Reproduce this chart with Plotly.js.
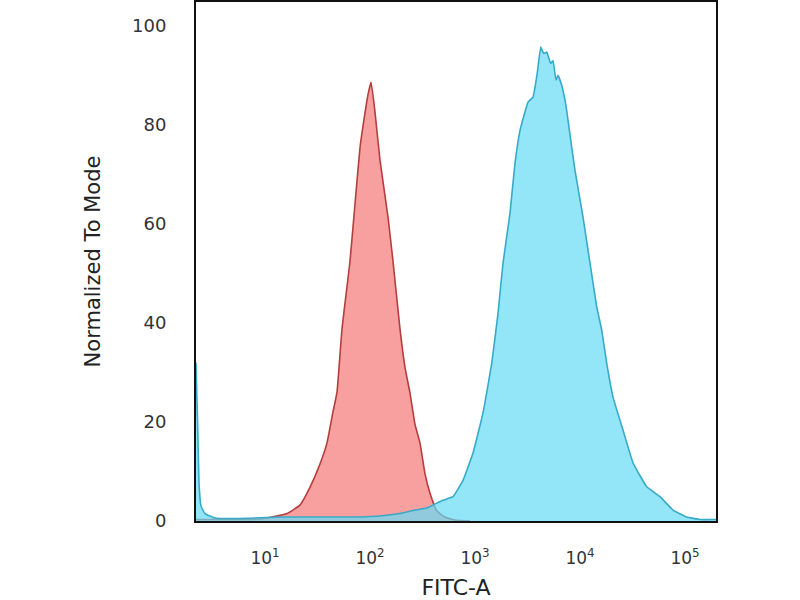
<!DOCTYPE html>
<html>
<head>
<meta charset="utf-8">
<script src="https://cdn.plot.ly/plotly-3.0.1.min.js"></script>
<style>html,body{margin:0;padding:0;background:#fff;}#chart{width:800px;height:600px;}</style>
</head>
<body>
<div id="chart"></div>
<script>
// Isotype control (red) histogram: FITC-A intensity vs normalized count
const redX = [2.2, 9.0, 16.2, 21.5, 26.8, 33.4, 38.9, 44.4, 48.5, 54.1, 59.0, 64.5, 72.0, 80.4, 87.7, 95.7, 102.3, 111.6, 124.5, 148.4, 165.6, 193.1, 215.4, 240.4, 268.3, 299.5, 334.2, 372.8, 434.3, 517.6, 645.3, 896];
const redY = [0.3, 0.4, 1.5, 3.2, 6.8, 11.5, 15.7, 22, 26, 38.7, 45.5, 52.4, 64, 75.4, 81, 86, 88.5, 82.5, 72.8, 61.3, 52.4, 38.7, 31, 25.8, 19.5, 15.7, 9.5, 5.6, 2, 0.8, 0.2, 0];

// Stained sample (cyan) histogram
const blueX = [2.2, 2.28, 2.35, 2.46, 2.68, 3.34, 5.78, 13.9, 33.4, 80.4, 124.5, 193.1, 268.3, 346.6, 431.5, 495.5, 617, 768.6, 957.3, 1192, 1442, 1656, 1848, 2154, 2404, 2683, 3199, 3568, 3894, 4224, 4396, 4542, 4818, 5257, 5533, 5906, 6170, 6691, 7197, 7467, 8333, 8962, 10680, 12450, 14420, 16100, 17970, 20610, 25700, 32000, 43200, 57800, 76900, 103800, 139000, 197200];
const blueY = [32, 20, 8, 3, 1.5, 0.6, 0.5, 0.8, 0.8, 0.8, 1, 1.5, 2.2, 2.6, 3.6, 4.2, 4.9, 8.2, 13.7, 21.8, 31.8, 41.9, 52, 62.1, 72.2, 78.8, 84.5, 85.5, 90, 95.6, 94.8, 94.3, 94.6, 92.3, 92.9, 88.9, 89.9, 87.9, 84.9, 82.8, 75.4, 70.7, 61.3, 52, 43.2, 38.5, 31.8, 25, 18.3, 11.7, 6.9, 4.9, 2.2, 0.8, 0.3, 0.3];

const xTickVals = [10, 100, 1000, 10000, 100000];
const xTickText = ["10<sup>1</sup>", "10<sup>2</sup>", "10<sup>3</sup>", "10<sup>4</sup>", "10<sup>5</sup>"];
const yTickVals = [0, 20, 40, 60, 80, 100];

const traces = [
  {
    x: redX, y: redY, type: 'scatter', mode: 'lines',
    line: {color: 'rgb(180,62,62)', width: 1.6, shape: 'spline', smoothing: 0.4},
    fill: 'tozeroy', fillcolor: 'rgba(245,120,120,0.7)',
    showlegend: false, hoverinfo: 'skip'
  },
  {
    x: blueX, y: blueY, type: 'scatter', mode: 'lines',
    line: {color: 'rgb(55,170,200)', width: 1.6, shape: 'spline', smoothing: 0.3},
    fill: 'tozeroy', fillcolor: 'rgba(100,220,245,0.7)',
    showlegend: false, hoverinfo: 'skip'
  }
];

const layout = {
  width: 800, height: 600,
  margin: {l: 196, r: 84, t: 2, b: 79},
  paper_bgcolor: '#fff', plot_bgcolor: '#fff',
  font: {family: 'DejaVu Sans, Verdana, sans-serif', color: '#333'},
  showlegend: false,
  xaxis: {
    type: 'log', range: [0.343, 5.295],
    tickmode: 'array', tickvals: xTickVals, ticktext: xTickText,
    ticks: '', showgrid: false, zeroline: false,
    showline: true, linecolor: '#111', linewidth: 2, mirror: true,
    tickfont: {size: 17, color: '#333'},
    ticklabelstandoff: 21,
    title: {text: 'FITC-A', font: {size: 22, color: '#222'}, standoff: 12}
  },
  yaxis: {
    range: [0, 104.7],
    tickmode: 'array', tickvals: yTickVals,
    ticks: '', showgrid: false, zeroline: false,
    showline: true, linecolor: '#111', linewidth: 2, mirror: true,
    tickfont: {size: 18, color: '#333'},
    ticklabelstandoff: 24,
    title: {text: 'Normalized To Mode', font: {size: 21, color: '#222'}, standoff: 26}
  }
};

Plotly.newPlot('chart', traces, layout, {displayModeBar: false, staticPlot: true});
</script>
</body>
</html>
